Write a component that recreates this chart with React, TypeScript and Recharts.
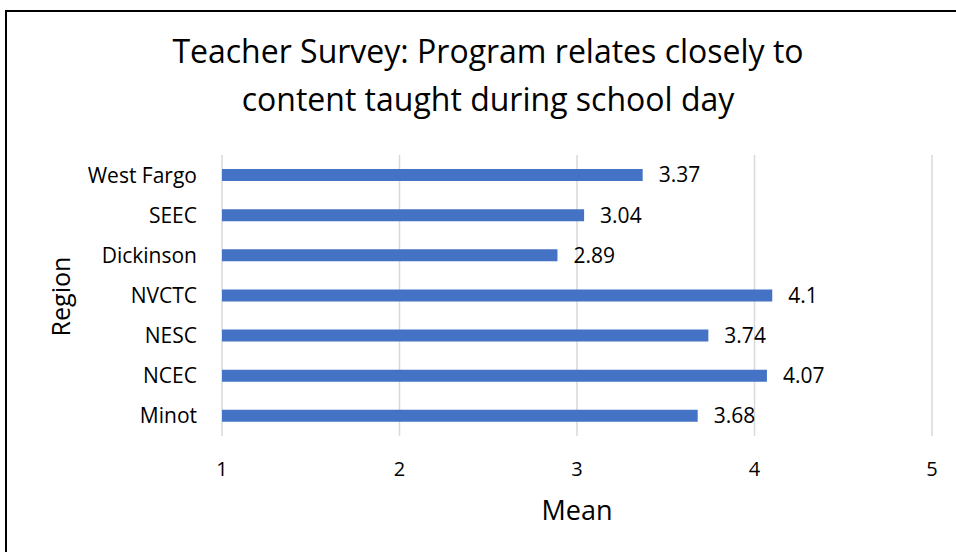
import { BarChart, Bar, XAxis, YAxis, CartesianGrid, LabelList, Label } from "recharts";

const regions = ["West Fargo", "SEEC", "Dickinson", "NVCTC", "NESC", "NCEC", "Minot"];
const means = [3.37, 3.04, 2.89, 4.1, 3.74, 4.07, 3.68];
const meanTicks = [1, 2, 3, 4, 5];

const chartData = regions.map((region, i) => ({ region, mean: means[i] }));

const FONT = "'Open Sans', Lato, sans-serif";

// rotated axis title, baseline sits just left of the category labels
const RegionLabel = ({ viewBox }: { viewBox?: { x: number; y: number; width: number; height: number } }) => {
    if (!viewBox) return null;
    const bx = viewBox.x + 70;
    const cy = viewBox.y + viewBox.height / 2 + 1;
    return (
        <text
            x={bx}
            y={cy}
            transform={`rotate(-90, ${bx}, ${cy})`}
            textAnchor="middle"
            fontSize={25}
            fill="#000"
            fontFamily={FONT}
        >
            Region
        </text>
    );
};

export default function App() {
    return (
        <div style={{ position: "absolute", left: 0, top: 0, width: 956, height: 552, background: "#fff", overflow: "hidden", fontFamily: FONT }}>
            <div
                style={{
                    position: "absolute",
                    left: 5,
                    top: 10,
                    width: 1000,
                    height: 600,
                    borderLeft: "2px solid #000",
                    borderTop: "2px solid #000",
                    boxSizing: "border-box",
                }}
            />
            <div
                style={{
                    position: "absolute",
                    left: 0,
                    top: 27,
                    width: 976,
                    textAlign: "center",
                    fontSize: 32,
                    lineHeight: "48px",
                    color: "#000",
                }}
            >
                Teacher Survey: Program relates closely to
                <br />
                content taught during school day
            </div>
            <div style={{ position: "absolute", left: 0, top: 0 }}>
                <BarChart
                    width={956}
                    height={552}
                    data={chartData}
                    layout="vertical"
                    margin={{ top: 155, right: 24, left: 0, bottom: 0 }}
                >
                    <CartesianGrid horizontal={false} stroke="#d9d9d9" strokeWidth={1.5} />
                    <XAxis
                        type="number"
                        domain={[1, 5]}
                        ticks={meanTicks}
                        axisLine={false}
                        tickLine={false}
                        tickSize={0}
                        tickMargin={26}
                        height={116}
                        tick={{ fontSize: 20, fill: "#000", fontFamily: FONT }}
                    >
                        <Label
                            value="Mean"
                            position="insideBottom"
                            offset={32}
                            style={{ fontSize: 27, fill: "#000", fontFamily: FONT }}
                        />
                    </XAxis>
                    <YAxis
                        type="category"
                        dataKey="region"
                        width={222}
                        axisLine={false}
                        tickLine={false}
                        tickSize={0}
                        tickMargin={25}
                        tick={{ fontSize: 21, fill: "#000", fontFamily: FONT }}
                    >
                        <Label content={<RegionLabel />} />
                    </YAxis>
                    <Bar dataKey="mean" fill="#4472C4" barSize={12} isAnimationActive={false}>
                        <LabelList
                            dataKey="mean"
                            position="right"
                            offset={16}
                            style={{ fontSize: 21, fill: "#000", fontFamily: FONT }}
                        />
                    </Bar>
                </BarChart>
            </div>
        </div>
    );
}
